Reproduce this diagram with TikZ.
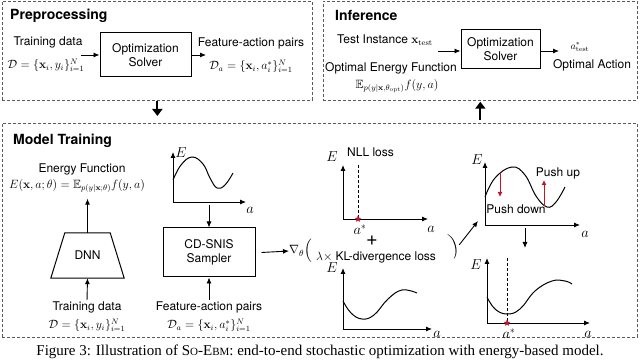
\documentclass[tikz,border=0pt]{standalone}
\usepackage{amsmath}
\usepackage{amssymb}
\usepackage[no-math]{fontspec}
\setmainfont{TeX Gyre Heros}
\newfontfamily\capfont{Liberation Serif}
\usetikzlibrary{arrows.meta,positioning,shapes.geometric,calc}
\definecolor{pushRed}{RGB}{195,20,45}
\definecolor{stageGray}{RGB}{90,90,90}

\begin{document}
\begin{tikzpicture}[x=1pt, y=-1pt,
    stage/.style={draw=stageGray, densely dashed, line width=0.7pt, anchor=north west},
    solver/.style={rectangle, draw, line width=1pt, align=center,
                   font=\fontsize{12}{14}\selectfont},
    lbl/.style={font=\fontsize{12}{14}\selectfont, inner sep=0pt},
    mth/.style={font=\fontsize{12}{14}\selectfont, inner sep=0pt},
    ttl/.style={font=\fontsize{14}{16}\selectfont\bfseries, anchor=west, inner sep=0pt},
    axlbl/.style={font=\fontsize{14}{14}\selectfont, inner sep=0pt},
    flow/.style={-{Latex[length=6pt,width=5pt]}, line width=0.9pt},
    bigflow/.style={-{Triangle[length=7pt,width=10pt]}, line width=1.8pt},
    axis/.style={-{Latex[length=6pt,width=5pt]}, line width=0.9pt},
    curve/.style={line width=1pt},
    push/.style={-{Latex[length=5pt,width=5pt]}, line width=1pt, draw=pushRed},
    minstar/.style={star, star points=5, star point ratio=2.2, fill=pushRed,
                    minimum size=7pt, inner sep=0pt}
  ]
  \useasboundingbox (0,0) rectangle (640,363);

  % stages
  \node[stage, minimum width=310pt, minimum height=99pt] (prep) at (2,1) {};
  \node[stage, minimum width=314pt, minimum height=99pt] (infer) at (323,1) {};
  \node[stage, minimum width=635pt, minimum height=214pt] (train) at (2,123) {};
  \draw[bigflow, shorten >=7pt] (prep.south) -- (prep.south |- train.north);
  \draw[bigflow, shorten <=3pt, shorten >=1pt] (infer.south |- train.north) -- (infer.south);

  % preprocessing
  \node[ttl] (pretitle) at (10,16) {Preprocessing};
  \node[lbl] (tdata) at (48,42) {Training data};
  \node[mth] (tdset) at (46,65) {$\mathcal{D}=\{\mathbf{x}_i,y_i\}_{i=1}^N$};
  \node[solver, minimum width=91pt, minimum height=44pt] (opt1) at (145.5,55) {Optimization\\Solver};
  \coordinate (tdin) at (81,55);
  \draw[flow] (tdin) -- (opt1.west);
  \coordinate (faout) at (206,55);
  \draw[flow] (opt1.east) -- (faout);
  \node[lbl] (fapairs) at (251,43) {Feature-action pairs};
  \node[mth] (faset) at (251,66) {$\mathcal{D}_a=\{\mathbf{x}_i,a_i^*\}_{i=1}^N$};

  % inference
  \node[ttl] (inftitle) at (335,15) {Inference};
  \node[lbl, anchor=west] (testin) at (337,40) {Test Instance $\mathbf{x}_{\mathrm{test}}$};
  \node[solver, minimum width=79pt, minimum height=39pt] (opt2) at (500.5,49.5) {Optimization\\Solver};
  \coordinate (testarr) at (438,51);
  \draw[flow] (testarr) -- (opt2.west |- testarr);
  \coordinate (actout) at (559,51);
  \draw[flow] (opt2.east |- actout) -- (actout);
  \node[font=\fontsize{10}{11}\selectfont] (astar) at (580,47) {$a^*_{\mathrm{test}}$};
  \node[lbl] (optact) at (592,65) {Optimal Action};
  \node[lbl] (optE) at (391,68) {Optimal Energy Function};
  \node[mth] (optEf) at (397,86) {$\mathbb{E}_{p(y|\mathbf{x},\theta_{\mathrm{opt}})}f(y,a)$};

  % model training
  \node[ttl] (traintitle) at (13,141) {Model Training};
  \node[lbl] (efun) at (82,169) {Energy Function};
  \node[mth] (eform) at (77,186) {$E(\mathbf{x},a;\theta)=\mathbb{E}_{p(y|\mathbf{x};\theta)}f(y,a)$};
  \node[minimum width=73pt, minimum height=45pt, font=\fontsize{12}{14}\selectfont] (dnn) at (87.5,255.5) {DNN};
  \draw[line width=1pt] (dnn.south west) -- (dnn.south east) -- ($(dnn.north east)+(-14,0)$)
    -- ($(dnn.north west)+(14,0)$) -- cycle;
  \draw[flow, shorten >=6pt] (dnn.north) -- (eform.south -| dnn.north);
  \node[lbl] (dnndata) at (87,307) {Training data};
  \node[mth] (dnnset) at (87,325) {$\mathcal{D}=\{\mathbf{x}_i,y_i\}_{i=1}^N$};
  \draw[flow, shorten <=1pt] (dnndata.north) -- (dnn.south);

  % sampler energy
  \coordinate (p1o) at (173,202);
  \draw[axis] (p1o) -- ++(0,-50);
  \draw[axis] (p1o) -- ++(73,0);
  \node[axlbl] (p1E) at (181,153) {$E$};
  \node[axlbl] (p1a) at (250,210) {$a$};
  \draw[curve] plot[smooth, tension=0.7] coordinates {(173,180) (181,165) (192,157) (203,164) (210,178) (217,188) (225,185) (233,173)};
  \node[solver, minimum width=92pt, minimum height=49pt] (sampler) at (209,252.5) {CD-SNIS\\Sampler};
  \coordinate (p1b) at (209,205);
  \draw[flow] (p1b) -- (sampler.north);
  \node[lbl] (fadata) at (209,307) {Feature-action pairs};
  \node[mth] (fadset) at (209,325) {$\mathcal{D}_a=\{\mathbf{x}_i,a_i^*\}_{i=1}^N$};
  \draw[flow, shorten <=1pt] (fadata.north) -- (sampler.south);

  % loss
  \node[mth, anchor=west, font=\fontsize{13}{14}\selectfont] (grad) at (289,251) {$\nabla_\theta\Big($};
  \draw[flow] (sampler.east) ++(6,0) -- (grad.west);
  \coordinate (p2o) at (343,219);
  \draw[axis] (p2o) -- ++(0,-54);
  \draw[axis] (p2o) -- ++(85,0);
  \node[axlbl] (p2E) at (332,157) {$E$};
  \node[lbl, anchor=west] (nll) at (347,152) {NLL loss};
  \draw[densely dashed, line width=0.5pt] (358,165) -- (358,219);
  \node[minstar] (p2s) at (358,219) {};
  \node[axlbl] (p2as) at (360,230) {$a^*$};
  \node[axlbl] (p2a) at (431,229) {$a$};
  \node[font=\fontsize{20}{20}\selectfont, inner sep=0pt] (plus) at (372,241) {+};
  \node[lbl, anchor=west] (kl) at (316,257) {$\lambda{\times}$ KL-divergence loss};
  \node[mth, font=\fontsize{14}{14}\selectfont, rotate=15] (rparen) at (455,246) {$\Big)$};
  \coordinate (p3o) at (343,329);
  \draw[axis] (p3o) -- ++(0,-61);
  \draw[axis] (p3o) -- ++(89,0);
  \node[axlbl] (p3E) at (332,268) {$E$};
  \node[axlbl] (p3a) at (437,334) {$a$};
  \draw[curve] plot[smooth, tension=0.7] coordinates {(343,301) (351,313) (362,319) (374,315) (388,299) (402,290) (417,293)};

  % push
  \coordinate (p4o) at (485,225);
  \coordinate (pushin) at (478,221);
  \draw[flow] (rparen.east) -- (pushin);
  \draw[axis] (p4o) -- ++(0,-63);
  \draw[axis] (p4o) -- ++(95,0);
  \node[axlbl] (p4E) at (477,160) {$E$};
  \node[axlbl] (p4a) at (585,234) {$a$};
  \draw[curve] plot[smooth, tension=0.7] coordinates {(485,197) (495,178) (512,167) (525,175) (536,196) (547,207) (556,202) (565,187)};
  \coordinate (pdtop) at (500,173);
  \coordinate (pdbot) at (500,197);
  \draw[push] (pdtop) -- (pdbot);
  \coordinate (putop) at (544,180);
  \coordinate (pubot) at (544,206);
  \draw[push] (pubot) -- (putop);
  \node[lbl] (pushup) at (558,173) {Push up};
  \node[lbl] (pushdn) at (516,209) {Push down};

  % result
  \coordinate (p4b) at (525,228);
  \coordinate (p5t) at (525,248);
  \draw[flow] (p4b) -- (p5t);
  \coordinate (p5o) at (487,323);
  \draw[axis] (p5o) -- ++(0,-65);
  \draw[axis] (p5o) -- ++(103,0);
  \node[axlbl] (p5E) at (476,265) {$E$};
  \node[axlbl] (p5a) at (588,334) {$a$};
  \draw[densely dashed, line width=0.5pt] (507,258) -- (507,323);
  \draw[curve] plot[smooth, tension=0.7] coordinates {(487,297) (495,309) (507,314) (520,309) (535,291) (552,281) (565,281) (572,284)};
  \node[minstar] (p5s) at (507,323) {};
  \node[axlbl] (p5as) at (509,334) {$a^*$};

  % caption
  \node[font=\capfont\fontsize{15}{16}\selectfont, inner sep=0pt] (caption) at (320,352)
    {Figure 3: Illustration of S{\fontsize{11}{12}\selectfont O}-E{\fontsize{11}{12}\selectfont BM}: end-to-end stochastic optimization with energy-based model.};
\end{tikzpicture}
\end{document}
